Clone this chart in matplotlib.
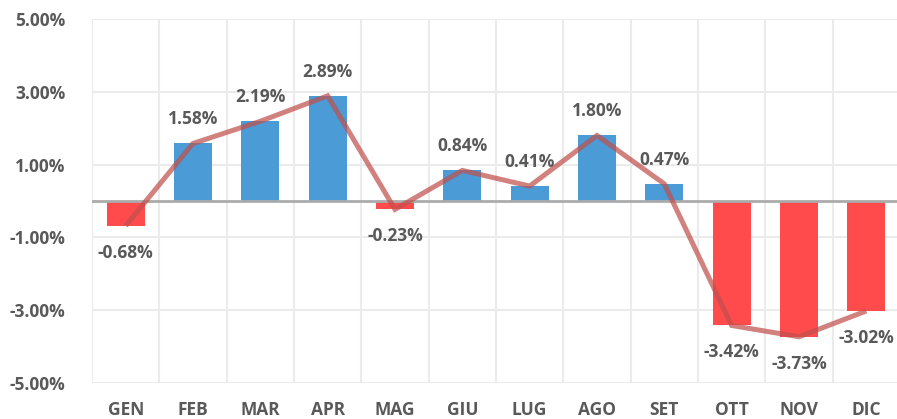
import matplotlib
matplotlib.use("Agg")
import matplotlib.pyplot as plt
from matplotlib.ticker import FuncFormatter
import numpy as np

months = ["GEN", "FEB", "MAR", "APR", "MAG", "GIU", "LUG", "AGO", "SET", "OTT", "NOV", "DIC"]
values = [-0.68, 1.58, 2.19, 2.89, -0.23, 0.84, 0.41, 1.80, 0.47, -3.42, -3.73, -3.02]
yticks = [-5, -3, -1, 1, 3, 5]

plt.rcParams['font.family'] = ['Open Sans', 'DejaVu Sans']
txt = "#595959"

W, H = 897, 419
fig = plt.figure(figsize=(W / 100, H / 100), dpi=100)
left, right, top, bottom = 92, 900, 19, 383
ax = fig.add_axes([left / W, 1 - bottom / H, (right - left) / W, (bottom - top) / H])

x = np.arange(len(months))
colors = ["#4A9BD6" if v >= 0 else "#FF4B4B" for v in values]
ax.bar(x, values, width=0.56, color=colors, zorder=2)
ax.plot(x, values, color="#C0504D", alpha=0.72, lw=3.6, zorder=3, solid_capstyle='butt', solid_joinstyle='miter')
ax.axhline(0, color="#ABABAB", lw=2, zorder=2.5)

ax.set_xlim(-0.5, len(months) - 0.5)
ax.set_ylim(-5, 5)
ax.set_yticks(yticks)
ax.yaxis.set_major_formatter(FuncFormatter(lambda v, p: f"{v:.2f}%"))
ax.set_xticks(x)
ax.set_xticklabels(months)
for xb in np.arange(-0.5, len(months), 1.0):
    ax.axvline(xb, color="#EBEBEB", lw=1.5, zorder=0)
for yt in yticks:
    ax.axhline(yt, color="#EBEBEB", lw=1.5, zorder=0)

for s in ax.spines.values():
    s.set_visible(False)
ax.tick_params(length=0)
ax.tick_params(axis='y', pad=19, labelsize=12.5, labelcolor=txt)
ax.tick_params(axis='x', pad=13, labelsize=12.5, labelcolor=txt)
for lab in ax.get_xticklabels() + ax.get_yticklabels():
    lab.set_fontweight('bold')

for xi, v in zip(x, values):
    off = 24 if v >= 0 else -27
    ax.annotate(f"{v:.2f}%", (xi, v), xytext=(0, off * 0.72), textcoords='offset points',
                ha='center', va='center', fontsize=12.5, fontweight='bold', color=txt, zorder=4)

fig.savefig("out.png", dpi=100)
